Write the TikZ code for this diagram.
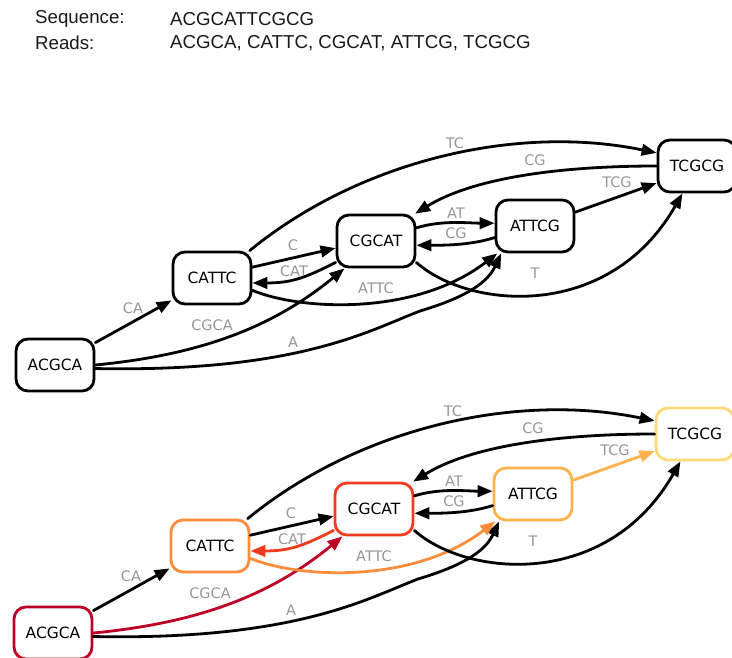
\documentclass[tikz,border=0pt]{standalone}
\usepackage{fontspec}
\setmainfont{Liberation Sans}
\newfontfamily\dotfont{DejaVu Sans}
\usetikzlibrary{arrows.meta}
\definecolor{readcrimson}{RGB}{189,0,38}
\definecolor{readred}{RGB}{240,59,32}
\definecolor{readorange}{RGB}{253,141,60}
\definecolor{readamber}{RGB}{254,178,76}
\definecolor{readyellow}{RGB}{254,217,118}
\definecolor{labelgray}{RGB}{150,150,150}

\begin{document}
\begin{tikzpicture}[x=1pt,y=-1pt,>={Triangle[length=15pt,width=11.5pt]},
  line cap=round,line join=round,
  read/.style={draw,line width=2.8pt,rounded corners=12pt,minimum width=78pt,
    minimum height=52pt,inner sep=0pt,font=\dotfont\fontsize{15.5}{17}\selectfont},
  edge/.style={->,line width=2.8pt},
  lbl/.style={text=labelgray,inner sep=0pt,font=\dotfont\fontsize{14.5}{16}\selectfont},
  head/.style={anchor=west,inner sep=0pt,text=black!90,font=\fontsize{18.7}{22}\selectfont}]
 \useasboundingbox (0,0) rectangle (732,657);
 \node[head] (seqkey) at (35,19) {Sequence:};
 \node[head] (seqval) at (170,19) {ACGCATTCGCG};
 \node[head] (readkey) at (35,43) {Reads:};
 \node[head] (readval) at (170,43) {ACGCA, CATTC, CGCAT, ATTCG, TCGCG};
 % top: plain graph, bottom: same graph with the walk coloured
 \foreach \g/\dx/\dy/\colA/\colB/\colC/\colD/\colE in
   {t/0/0/black/black/black/black/black,
    b/-2/268/readcrimson/readorange/readred/readamber/readyellow}{
 \begin{scope}[shift={(\dx,\dy)}]
  \node[read,draw=\colA] (\g ACGCA) at (55,365) {ACGCA};
  \node[read,draw=\colB] (\g CATTC) at (212,278) {CATTC};
  \node[read,draw=\colC] (\g CGCAT) at (376,241) {CGCAT};
  \node[read,draw=\colD] (\g ATTCG) at (535,226) {ATTCG};
  \node[read,draw=\colE] (\g TCGCG) at (697,166) {TCGCG};
  \coordinate (\g-Abend) at (420,311);
  \draw[edge] (\g ACGCA.29) -- (\g CATTC.209);
  \draw[edge,color=\colA] (\g ACGCA.east)
   .. controls +(103,-10) and +(-73,60) .. (\g CGCAT.221);
  \draw[edge] (\g ACGCA.355) .. controls +(203,4) and +(-50,19) .. (\g-Abend)
   .. controls +(40,-12) and +(-15,32) .. (\g ATTCG.219);
  \draw[edge] (\g CATTC.15) -- (\g CGCAT.190);
  \draw[edge,color=\colC] (\g CGCAT.208)
   .. controls +(-30,15) and +(40,0) .. (\g CATTC.353);
  \draw[edge,color=\colB] (\g CATTC.343)
   .. controls +(48,20) and +(-82,63) .. (\g ATTCG.216);
  \draw[edge] (\g CATTC.36) .. controls +(110,-90) and +(-140,-29) .. (\g TCGCG.162);
  \draw[edge] (\g CGCAT.18) .. controls +(25,-8) and +(-25,0) .. (\g ATTCG.176);
  \draw[edge] (\g ATTCG.196) .. controls +(-25,8) and +(25,0) .. (\g CGCAT.354);
  \draw[edge] (\g TCGCG.west) .. controls +(-100,0) and +(57,-35) .. (\g CGCAT.35);
  \draw[edge,color=\colD] (\g ATTCG.19) -- (\g TCGCG.203);
  \draw[edge] (\g CGCAT.332) .. controls +(53,47) and +(-73,128) .. (\g TCGCG.242);
  \node[lbl] (\g-CA) at (133,308) {CA};
  \node[lbl] (\g-CGCA) at (212,325) {CGCA};
  \node[lbl] (\g-A) at (293,342) {A};
  \node[lbl] (\g-C) at (293,245) {C};
  \node[lbl] (\g-CAT) at (294,271) {CAT};
  \node[lbl] (\g-ATTC) at (376,288) {ATTC};
  \node[lbl] (\g-TC) at (455,143) {TC};
  \node[lbl] (\g-CGup) at (535,160) {CG};
  \node[lbl] (\g-TCG) at (617,182) {TCG};
  \node[lbl] (\g-AT) at (456,213) {AT};
  \node[lbl] (\g-CGlow) at (456,233) {CG};
  \node[lbl] (\g-T) at (535,273) {T};
 \end{scope}}
\end{tikzpicture}
\end{document}
